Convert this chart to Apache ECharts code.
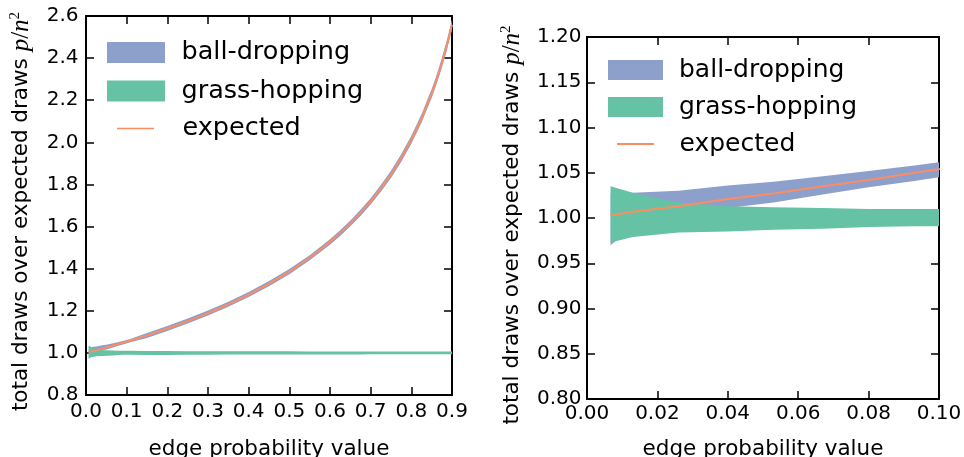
<!DOCTYPE html>
<html><head><meta charset="utf-8">
<script src="https://cdn.jsdelivr.net/npm/echarts@6/dist/echarts.min.js"></script>
<style>html,body{margin:0;padding:0;background:#fff}#c{width:964px;height:457px}</style>
</head><body><div id="c"></div>
<script>
// edge probability sample points
const pValues = [0.0067, 0.013, 0.026, 0.04, 0.053, 0.067, 0.08, 0.093, 0.107, 0.15, 0.2, 0.25, 0.3, 0.35, 0.4, 0.45, 0.5, 0.55, 0.6, 0.625, 0.65, 0.675, 0.7, 0.725, 0.75, 0.775, 0.8, 0.825, 0.85, 0.8625, 0.875, 0.8875, 0.9];
// expected ratio
const expectedValues = [1.003, 1.007, 1.013, 1.021, 1.027, 1.035, 1.042, 1.050, 1.058, 1.083, 1.116, 1.151, 1.189, 1.231, 1.277, 1.329, 1.386, 1.452, 1.527, 1.569, 1.615, 1.665, 1.720, 1.781, 1.848, 1.925, 2.012, 2.113, 2.232, 2.300, 2.377, 2.462, 2.558];
// ball-dropping band
const ballLow  = [0.970, 0.990, 1.001, 1.011, 1.017, 1.026, 1.034, 1.041, 1.049, 1.071, 1.104, 1.139, 1.177, 1.219, 1.265, 1.317, 1.374, 1.440, 1.514, 1.555, 1.601, 1.650, 1.705, 1.765, 1.831, 1.907, 1.993, 2.093, 2.211, 2.278, 2.354, 2.438, 2.533];
const ballHigh = [1.028, 1.028, 1.030, 1.036, 1.040, 1.046, 1.052, 1.058, 1.065, 1.095, 1.128, 1.163, 1.201, 1.243, 1.289, 1.341, 1.398, 1.464, 1.540, 1.583, 1.629, 1.680, 1.735, 1.797, 1.865, 1.943, 2.031, 2.133, 2.253, 2.322, 2.400, 2.486, 2.583];
// grass-hopping band
const grassLow  = [0.973, 0.979, 0.984, 0.985, 0.987, 0.988, 0.990, 0.991, 0.991, 0.990, 0.990, 0.991, 0.991, 0.992, 0.992, 0.992, 0.992, 0.992, 0.992, 0.992, 0.992, 0.992, 0.993, 0.993, 0.993, 0.993, 0.993, 0.993, 0.993, 0.993, 0.993, 0.993, 0.993];
const grassHigh = [1.035, 1.028, 1.017, 1.013, 1.012, 1.011, 1.010, 1.010, 1.010, 1.009, 1.009, 1.008, 1.008, 1.008, 1.008, 1.008, 1.008, 1.007, 1.007, 1.007, 1.007, 1.007, 1.007, 1.007, 1.007, 1.007, 1.007, 1.007, 1.007, 1.007, 1.007, 1.007, 1.007];
// axes
const leftX = {min: 0, max: 0.9, interval: 0.1, digits: 1};
const leftY = {min: 0.8, max: 2.6, interval: 0.2, digits: 1};
const rightX = {min: 0, max: 0.1, interval: 0.02, digits: 2};
const rightY = {min: 0.8, max: 1.2, interval: 0.05, digits: 2};
const legendNames = ['ball-dropping', 'grass-hopping', 'expected'];

const BLUE = '#8da0cb', GREEN = '#66c2a5', ORANGE = '#fc8d62';
const FONT = 'DejaVu Sans';
const chart = echarts.init(document.getElementById('c'), null, {renderer: 'canvas'});

function pairs(ys) { return pValues.map((x, i) => [x, ys[i]]); }

function bandSeries(name, lo, hi, color, gi) {
  return {
    type: 'custom', name: name, xAxisIndex: gi * 2, yAxisIndex: gi * 2,
    data: [[pValues[0], lo[0]]], color: color, itemStyle: {color: color}, silent: true, z: 2, clip: true,
    renderItem: function (params, api) {
      const pts = [];
      for (let i = 0; i < pValues.length; i++) pts.push(api.coord([pValues[i], hi[i]]));
      for (let i = pValues.length - 1; i >= 0; i--) pts.push(api.coord([pValues[i], lo[i]]));
      const cs = params.coordSys;
      return {type: 'group', clipPath: {type: 'rect', shape: {x: cs.x, y: cs.y, width: cs.width, height: cs.height}},
        children: [{type: 'polygon', shape: {points: pts}, style: {fill: color, stroke: null}}]};
    }
  };
}
function expectedSeries(gi) {
  return {type: 'line', name: legendNames[2], xAxisIndex: gi * 2, yAxisIndex: gi * 2,
    data: pairs(expectedValues), symbol: 'none', color: ORANGE, itemStyle: {color: ORANGE},
    lineStyle: {color: ORANGE, width: 2}, silent: true, z: 3};
}

const tick = {show: true, inside: true, length: 8, lineStyle: {color: '#000', width: 1.5}};
const line = {show: true, onZero: false, lineStyle: {color: '#000', width: 2}};
const nameStyleX = {fontFamily: FONT, fontSize: 21.5, color: '#000', lineHeight: 26};
function nameStyleY(padRight) {
  return {fontFamily: FONT, fontSize: 21.5, color: '#000', lineHeight: 26, padding: [0, padRight, 0, 0],
    rich: {
      m: {fontFamily: 'Liberation Serif', fontStyle: 'italic', fontSize: 25, lineHeight: 26},
      s: {fontFamily: 'Liberation Serif', fontSize: 25, lineHeight: 26},
      sup: {fontFamily: 'Liberation Serif', fontSize: 15, lineHeight: 14, verticalAlign: 'top'}
    }};
}
const yName = 'total draws over expected draws {m|p}{s|/}{m|n}{sup|2}';

function xAxes(gi, ax, margin, gap) {
  const base = {type: 'value', gridIndex: gi, min: ax.min, max: ax.max, interval: ax.interval,
    axisLine: line, axisTick: tick, splitLine: {show: false}};
  return [
    Object.assign({}, base, {position: 'bottom',
      axisLabel: {color: '#000', fontFamily: FONT, fontSize: 20, margin: margin,
        formatter: v => v.toFixed(ax.digits)},
      name: 'edge probability value', nameLocation: 'middle', nameGap: gap, nameTextStyle: nameStyleX}),
    Object.assign({}, base, {position: 'top', axisLabel: {show: false}})
  ];
}
function yAxes(gi, ax, margin, gap, padRight) {
  const base = {type: 'value', gridIndex: gi, min: ax.min, max: ax.max, interval: ax.interval,
    axisLine: line, axisTick: tick, splitLine: {show: false}};
  return [
    Object.assign({}, base, {position: 'left',
      axisLabel: {color: '#000', fontFamily: FONT, fontSize: 20, margin: margin,
        formatter: v => v.toFixed(ax.digits)},
      name: yName, nameLocation: 'middle', nameGap: gap, nameTextStyle: nameStyleY(padRight)}),
    Object.assign({}, base, {position: 'right', axisLabel: {show: false}})
  ];
}
function legendItem(name, left, top, w, h, pad, fs) {
  return {data: [{name: name, icon: 'rect'}], left: left, top: top, orient: 'vertical',
    itemWidth: w, itemHeight: h, padding: 0, selectedMode: false,
    itemStyle: {borderWidth: 0},
    textStyle: {fontFamily: FONT, fontSize: fs, color: '#000', lineHeight: 30, padding: [0, 0, 0, pad]}};
}

const option = {
  backgroundColor: '#fff',
  animation: false,
  grid: [
    {left: 86, top: 16, width: 366, height: 379, outerBoundsMode: 'none', containLabel: false},
    {left: 587, top: 37, width: 352, height: 362, outerBoundsMode: 'none', containLabel: false}
  ],
  xAxis: [].concat(xAxes(0, leftX, 7, 41), xAxes(1, rightX, 5, 37)),
  yAxis: [].concat(yAxes(0, leftY, 7.5, 52, 12), yAxes(1, rightY, 5.5, 62, 14)),
  legend: [
    legendItem(legendNames[0], 107, 37.5, 58, 21, 11.5, 25.5),
    legendItem(legendNames[1], 107, 76, 58, 21, 11.5, 25.5),
    legendItem(legendNames[2], 117, 113.5, 37, 1.5, 23.5, 25.5),
    legendItem(legendNames[0], 608, 55, 55, 20, 11, 25),
    legendItem(legendNames[1], 608, 92, 55, 20, 11, 25),
    legendItem(legendNames[2], 617, 129, 37, 2, 20.5, 25)
  ],
  series: [
    bandSeries(legendNames[0], ballLow, ballHigh, BLUE, 0),
    bandSeries(legendNames[1], grassLow, grassHigh, GREEN, 0),
    expectedSeries(0),
    bandSeries(legendNames[0], ballLow, ballHigh, BLUE, 1),
    bandSeries(legendNames[1], grassLow, grassHigh, GREEN, 1),
    expectedSeries(1)
  ]
};
chart.setOption(option);
</script></body></html>
